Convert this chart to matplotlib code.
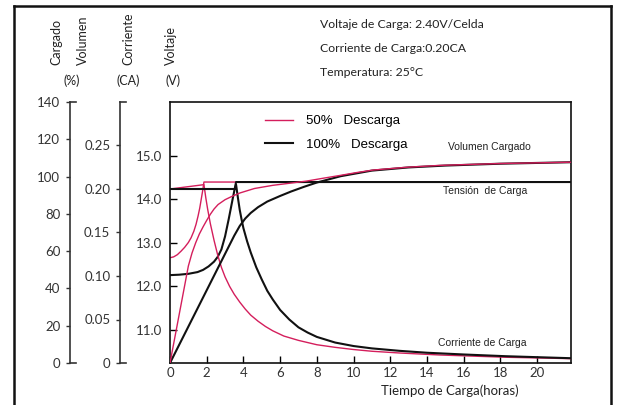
import matplotlib.pyplot as plt
from matplotlib.lines import Line2D

# ---- data -------------------------------------------------------------
hour_ticks = [0, 2, 4, 6, 8, 10, 12, 14, 16, 18, 20]
volt_ticks = [11.0, 12.0, 13.0, 14.0, 15.0]
curr_ticks = [0, 0.05, 0.10, 0.15, 0.20, 0.25]
curr_labels = ['0', '0.05', '0.10', '0.15', '0.20', '0.25']
vol_ticks = [0, 20, 40, 60, 80, 100, 120, 140]

# 50% discharge
t_volt50 = [0, 0.2, 0.4, 0.6, 0.8, 1.0, 1.15, 1.3, 1.42, 1.53, 1.62, 1.7, 1.78, 1.85, 21.85]
volt50 = [12.66, 12.68, 12.73, 12.81, 12.9, 13.01, 13.12, 13.27, 13.43, 13.62, 13.8, 14.0, 14.2, 14.40, 14.40]
t_curr50 = [0, 1.85, 1.95, 2.05, 2.2, 2.4, 2.6, 2.8, 3.0, 3.25, 3.5, 3.8, 4.1, 4.4, 4.8, 5.2, 5.6, 6.2,
            7.0, 8.0, 9.0, 10.0, 11.0, 12.5, 14.7, 18.3, 21.85]
curr50 = [0.20, 0.205, 0.19, 0.177, 0.16, 0.141, 0.124, 0.11, 0.099, 0.088, 0.079, 0.070, 0.062, 0.055,
          0.048, 0.042, 0.037, 0.031, 0.026, 0.021, 0.018, 0.0155, 0.0135, 0.0115, 0.0092, 0.0066, 0.005]
t_vol50 = [0, 1.0, 1.2, 1.4, 1.6, 1.8, 2.0, 2.2, 2.4, 2.62, 3.0, 3.36, 3.81, 4.6, 5.6, 6.5, 7.45, 8.4, 9.26,
           10.2, 11.07, 12.9, 14.7, 18.0, 21.85]
vol50 = [0, 52, 59, 64.5, 69.2, 73, 76.5, 79.8, 82.6, 85, 87.6, 89.3, 91.2, 93.6, 95.3, 96.4, 97.6, 99.2,
         100.6, 102.2, 103.5, 105, 106, 107, 107.7]

# 100% discharge
t_volt100 = [0, 0.5, 1.0, 1.5, 1.8, 2.1, 2.4, 2.6, 2.8, 3.0, 3.2, 3.4, 3.6, 21.85]
volt100 = [12.26, 12.27, 12.29, 12.33, 12.38, 12.46, 12.57, 12.68, 12.85, 13.15, 13.55, 13.98, 14.40, 14.40]
t_curr100 = [0, 3.55, 3.6, 3.7, 3.8, 3.9, 4.0, 4.2, 4.4, 4.7, 5.0, 5.3, 5.6, 6.0, 6.5, 7.0, 7.5, 8.0, 9.0,
             10.0, 11.0, 12.5, 14.0, 16.0, 18.3, 21.85]
curr100 = [0.20, 0.20, 0.205, 0.19, 0.176, 0.165, 0.155, 0.14, 0.127, 0.11, 0.096, 0.083, 0.073, 0.061,
           0.050, 0.041, 0.035, 0.030, 0.0235, 0.0195, 0.0168, 0.014, 0.0118, 0.0098, 0.0078, 0.0055]
t_vol100 = [0, 3.5, 3.8, 4.1, 4.4, 4.8, 5.3, 6.0, 6.6, 7.3, 8.0, 9.3, 11.0, 13.0, 15.0, 18.0, 21.85]
vol100 = [0, 68.3, 73.5, 77.5, 80.5, 83.6, 86.6, 89.6, 92, 94.5, 96.8, 100.2, 103.2, 104.9, 105.9, 106.9, 107.7]

RED = '#d41e5c'
BLK = '#111111'
GREY = '#333333'
W, H = 618, 405


def fx(x):
    return x / W


def fy(y):
    return 1 - y / H


fig = plt.figure(figsize=(W / 100, H / 100), dpi=100)
ax = fig.add_axes([fx(170), fy(363), (571 - 170) / W, (363 - 102) / H])
ax_c = ax.twinx()
ax_v = ax.twinx()

# voltage
ax.plot(t_volt50, volt50, color=RED, lw=1.0, label='50%   Descarga')
ax.plot(t_volt100, volt100, color=BLK, lw=1.5, label='100%   Descarga')
ax.set_xlim(0, 21.85)
ax.set_ylim(10.24, 16.24)
ax.set_xticks(hour_ticks)
ax.set_yticks(volt_ticks)
ax.set_yticklabels([f'{v:.1f}' for v in volt_ticks])
ax.tick_params(axis='both', direction='in', length=5, width=1, labelsize=9.5, labelcolor=GREY)
ax.tick_params(axis='y', pad=6)
ax.tick_params(axis='x', pad=3)
for s in ax.spines.values():
    s.set_linewidth(1.2)
    s.set_color(BLK)

# current
ax_c.plot(t_curr50, curr50, color=RED, lw=1.0)
ax_c.plot(t_curr100, curr100, color=BLK, lw=1.5)
ax_c.set_ylim(0, 0.30)
ax_c.set_yticks(curr_ticks)
ax_c.set_yticklabels(curr_labels)

# charged volume
ax_v.plot(t_vol100, vol100, color=BLK, lw=1.5)
ax_v.plot(t_vol50, vol50, color=RED, lw=1.0)
ax_v.set_ylim(0, 140)
ax_v.set_yticks(vol_ticks)

for a, off in ((ax_c, 36), (ax_v, 72)):
    for s in ('right', 'top', 'bottom'):
        a.spines[s].set_visible(False)
    a.spines['left'].set_visible(True)
    a.spines['left'].set_position(('outward', off))
    a.spines['left'].set_color(GREY)
    a.spines['left'].set_linewidth(1.2)
    a.yaxis.set_ticks_position('left')
    a.tick_params(axis='y', direction='out', length=3, width=1, pad=4, labelsize=9.5, labelcolor=GREY,
                  color=GREY)

for xs in (70, 120):
    for yy in (102, 363):
        fig.add_artist(Line2D([fx(xs), fx(xs + 6)], [fy(yy), fy(yy)], transform=fig.transFigure,
                              color=GREY, lw=1.2))

for lbl in ax.get_xticklabels() + ax.get_yticklabels() + ax_c.get_yticklabels() + ax_v.get_yticklabels():
    lbl.set_family('Lato')

# legend
ax.legend(loc='upper left', bbox_to_anchor=((265 - 170) / 401, (363 - 115) / 261), frameon=False,
          borderpad=0, borderaxespad=0, handlelength=2.1, handletextpad=1.0, labelspacing=0.85,
          prop={'family': 'Liberation Sans', 'size': 9.5})

# curve notes
note = dict(family='Liberation Sans', fontsize=7.5, color='#222222')
fig.text(fx(448), fy(147), 'Volumen Cargado', va='center', **note)
fig.text(fx(443), fy(191), 'Tensión  de Carga', va='center', **note)
fig.text(fx(438), fy(343), 'Corriente de Carga', va='center', **note)

# axis titles
ttl = dict(family='Lato', fontsize=9, color='#222222')
for x, s in ((56, 'Cargado'), (83, 'Volumen'), (128, 'Corriente'), (171, 'Voltaje')):
    fig.text(fx(x), fy(65), s, rotation=90, ha='center', va='bottom', **ttl)
for x, s in ((72, '(%)'), (128, '(CA)'), (173, '(V)')):
    fig.text(fx(x), fy(81), s, ha='center', va='center', **ttl)
fig.text(fx(450), fy(391), 'Tiempo de Carga(horas)', ha='center', va='center', family='Lato',
         fontsize=9.5, color='#222222')

# header
for y, s in ((25, 'Voltaje de Carga: 2.40V/Celda'), (49, 'Corriente de Carga:0.20CA'),
             (73, 'Temperatura: 25°C')):
    fig.text(fx(320), fy(y), s, ha='left', va='center', family='Lato', fontsize=8.8, color='#222222')

# outer frame
for xs, ys in (([14, 611], [6, 6]), ([14, 14], [6, 405]), ([611, 611], [6, 405])):
    fig.add_artist(Line2D([fx(v) for v in xs], [fy(v) for v in ys], transform=fig.transFigure,
                          color=BLK, lw=1.8))

fig.savefig('out.png', dpi=100)
